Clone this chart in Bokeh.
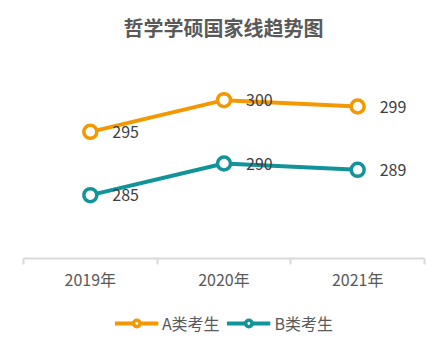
import numpy as np
from bokeh.plotting import figure
from bokeh.layouts import column
from bokeh.models import (ColumnDataSource, FixedTicker, Legend, LegendItem, Range1d, LabelSet, Div)
from bokeh.core.properties import value
from bokeh.embed import file_html
from bokeh.resources import INLINE

years = ["2019年", "2020年", "2021年"]
series_a = [295, 300, 299]
series_b = [285, 290, 289]
names = ["A类考生", "B类考生"]
title_text = "哲学学硕国家线趋势图"

ORANGE = "#F39800"
TEAL = "#11939A"
FONT = "Noto Sans CJK SC"

xs = np.arange(len(years)) + 0.5

title_div = Div(
    text=('<div style="width:447px;height:56px;line-height:56px;text-align:center;'
          'font-family:\'Noto Sans CJK SC\';font-size:20px;font-weight:bold;color:#595959;">'
          + title_text + '</div>'),
    width=447, height=56, margin=0)

p = figure(frame_width=401, frame_height=190, output_backend="svg", toolbar_location=None,
           x_range=Range1d(0, len(years)), y_range=Range1d(275, 305), title=None,
           min_border_left=23, min_border_right=23, min_border_top=12, min_border_bottom=42,
           background_fill_color="white", border_fill_color="white")
p.outline_line_color = None
p.grid.visible = False

p.yaxis.visible = False
ax = p.xaxis[0]
ax.ticker = FixedTicker(ticks=list(xs), minor_ticks=list(range(len(years) + 1)))
ax.major_label_overrides = {float(x): y for x, y in zip(xs, years)}
ax.major_tick_line_color = None
ax.minor_tick_line_color = "#d9d9d9"
ax.minor_tick_line_width = 2
ax.minor_tick_out = 6
ax.minor_tick_in = 0
ax.axis_line_color = "#d9d9d9"
ax.axis_line_width = 2
ax.major_label_text_font = FONT
ax.major_label_text_font_size = "16px"
ax.major_label_text_color = "#595959"
ax.major_label_standoff = 2

# legend holder figure
lf = figure(frame_width=447, frame_height=46, output_backend="svg", toolbar_location=None,
            x_range=Range1d(0, len(years)), y_range=Range1d(0, 1),
            min_border=0, background_fill_color="white", border_fill_color="white")
lf.outline_line_color = None
lf.grid.visible = False
lf.axis.visible = False

items = []
for vals, color, name in [(series_a, ORANGE, names[0]), (series_b, TEAL, names[1])]:
    src = ColumnDataSource(dict(x=xs, y=vals, t=[str(v) for v in vals]))
    p.line("x", "y", source=src, line_color=color, line_width=4)
    p.scatter("x", "y", source=src, size=13, fill_color="white", line_color=color, line_width=3.5)
    lbl = LabelSet(x="x", y="y", text="t", source=src, x_offset=22, y_offset=0,
                   text_baseline="middle", text_font=value(FONT), text_font_size=value("16px"),
                   text_color="#404040")
    p.add_layout(lbl)
    ln = lf.line("x", "y", source=src, line_color=color, line_width=4)
    sc = lf.scatter("x", "y", source=src, size=13, fill_color="white", line_color=color, line_width=3.5)
    items.append(LegendItem(label=name, renderers=[ln, sc]))

legend = Legend(items=items, orientation="horizontal", location="center",
                label_text_font=FONT, label_text_font_size="16px", label_text_color="#595959",
                glyph_width=44, glyph_height=16, spacing=7, padding=0, margin=0,
                label_standoff=4, border_line_color=None, background_fill_alpha=0)
lf.add_layout(legend)

layout = column(title_div, p, lf, spacing=0)
open("out.html", "w").write(file_html(layout, INLINE))
